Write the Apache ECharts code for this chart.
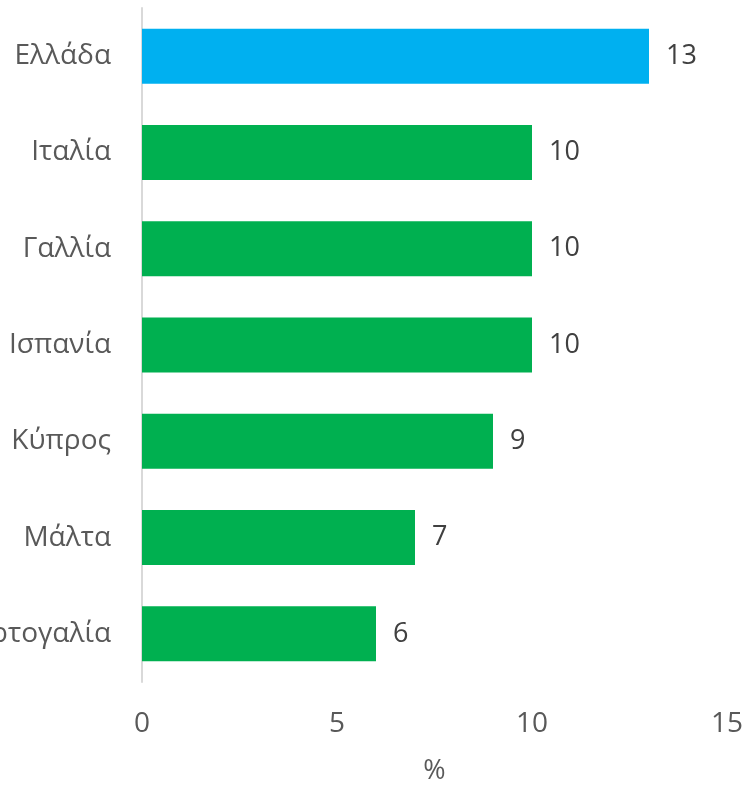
<!DOCTYPE html>
<html>
<head>
<meta charset="utf-8">
<script src="https://cdn.jsdelivr.net/npm/echarts@6/dist/echarts.min.js"></script>
<style>html,body{margin:0;padding:0;background:#fff;}#c{width:746px;height:785px;}</style>
</head>
<body>
<div id="c"></div>
<script>
const categories = ["Ελλάδα", "Ιταλία", "Γαλλία", "Ισπανία", "Κύπρος", "Μάλτα", "Πορτογαλία"];
const values = [13, 10, 10, 10, 9, 7, 6];
const highlight = "Ελλάδα";
const xTicks = [0, 5, 10, 15];
const axisName = "%";

const chart = echarts.init(document.getElementById('c'), null, {renderer: 'canvas'});
const font = '"Open Sans", "Noto Sans", sans-serif';
chart.setOption({
  animation: false,
  grid: {left: 142, right: 19, top: 8, bottom: 103, containLabel: false, outerBoundsMode: 'none'},
  xAxis: {
    type: 'value', min: xTicks[0], max: xTicks[xTicks.length - 1], interval: 5,
    name: axisName, nameLocation: 'middle', nameGap: 76,
    nameTextStyle: {fontSize: 27, color: '#595959', fontFamily: font},
    axisLine: {show: false}, axisTick: {show: false}, splitLine: {show: false},
    axisLabel: {fontSize: 28, color: '#595959', fontFamily: font, margin: 28}
  },
  yAxis: {
    type: 'category', data: categories, inverse: true,
    axisLine: {show: true, lineStyle: {color: '#d9d9d9', width: 2}},
    axisTick: {show: false},
    axisLabel: {fontSize: 28, color: '#595959', fontFamily: font, margin: 31}
  },
  series: [{
    type: 'bar', barWidth: 55,
    data: values.map((v, i) => ({value: v, itemStyle: {color: categories[i] === highlight ? '#00B0F0' : '#00B050'}})),
    label: {show: true, position: 'right', distance: 17, fontSize: 27, color: '#404040', fontFamily: font}
  }]
});
</script>
</body>
</html>
